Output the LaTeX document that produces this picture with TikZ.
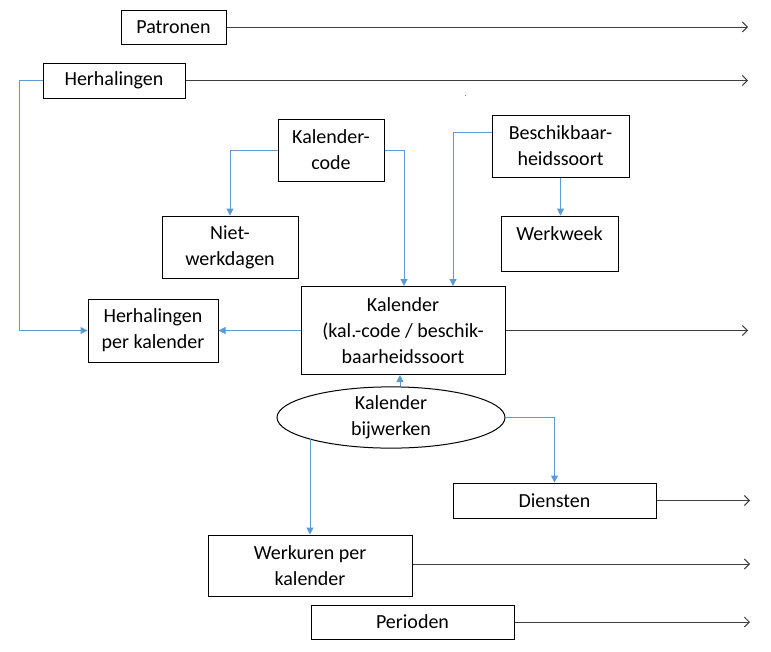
\documentclass[tikz,border=0pt]{standalone}
\usepackage{fontspec}
\setmainfont{Carlito}
\usetikzlibrary{arrows.meta,shapes.geometric}

\definecolor{linkBlue}{HTML}{5B9BD5}
\definecolor{flowGray}{HTML}{3F3F3F}

\begin{document}
\begin{tikzpicture}[
        % pixel grid, y downwards
        x=1pt, y=-1pt,
        box/.style={draw=black, line width=1pt, rectangle, align=center, inner sep=2pt,
            font=\fontsize{20}{26}\selectfont},
        oval/.style={draw=black, line width=1pt, ellipse, align=center, inner sep=0pt,
            font=\fontsize{20}{26}\selectfont},
        % pijlstijlen
        outFlow/.style={-{Straight Barb[length=5pt,width=10pt]}, line width=1pt, flowGray},
        blueLink/.style={-{Triangle[length=7pt,width=7pt]}, line width=1pt, linkBlue}
    ]

    % --- parameters ---
    \def\rightEnd{748}   % einde van de uitgaande pijlen
    \useasboundingbox (0,0) rectangle (771,651);

    % --- 1. bovenste rij ---
    \node[box, minimum width=105, minimum height=34] (pat) at (173.5,27) {Patronen};
    \node[box, minimum width=142, minimum height=35] (her) at (114,80.5) {Herhalingen};

    % --- 2. codes en soorten ---
    \node[box, minimum width=106, minimum height=62] (kcode) at (331,150) {Kalender-\\code};
    \node[box, minimum width=137, minimum height=62] (besch) at (560.5,146) {Beschikbaar-\\heidssoort};
    \node[box, minimum width=136, minimum height=62] (niet) at (230,247) {Niet-\\werkdagen};
    \node[box, minimum width=117, minimum height=55] (week) at (559.5,243.5) {Werkweek\\[-6pt]~};

    % --- 3. kalender ---
    \node[box, minimum width=130, minimum height=63] (hpk) at (153,330.5) {Herhalingen\\per kalender};
    \node[box, minimum width=204, minimum height=88] (kal) at (403,330.5)
        {Kalender\\(kal.-code / beschik-\\baarheidssoort};
    \node[oval, minimum width=228, minimum height=61] (bij) at (391,417.5) {Kalender\\bijwerken};

    % --- 4. onderste rij ---
    \node[box, minimum width=203, minimum height=35] (dien) at (554.5,500.5) {Diensten};
    \node[box, minimum width=204, minimum height=61] (wpk) at (310,565.5) {Werkuren per\\kalender};
    \node[box, minimum width=203, minimum height=34] (per) at (412.5,622) {Perioden};

    % --- 5. uitgaande pijlen (rechts) ---
    \coordinate (patEnd) at (\rightEnd,27);
    \coordinate (herEnd) at (\rightEnd,80.5);
    \coordinate (kalEnd) at (\rightEnd,330.5);
    \coordinate (dienEnd) at (750,500.5);
    \coordinate (wpkEnd) at (750,564);
    \coordinate (perEnd) at (750,622);
    \draw[outFlow] (pat.east) -- (patEnd);
    \draw[outFlow] (her.east) -- (herEnd);
    \draw[outFlow] (kal.east) -- (kalEnd);
    \draw[outFlow] (dien.east) -- (dienEnd);
    \draw[outFlow] (wpk.east |- wpkEnd) -- (wpkEnd);
    \draw[outFlow] (per.east) -- (perEnd);

    % --- 6. blauwe verbindingen ---
    \draw[blueLink] (her.west) -- ++(-23,0) |- (hpk.west);
    \draw[blueLink] (kcode.west) -| (niet.north);
    \draw[blueLink] (kcode.east) -| ([xshift=1pt]kal.north);
    \draw[blueLink] ([yshift=14pt]besch.west) -| ([xshift=50pt]kal.north);
    \draw[blueLink] (besch.south) -- (besch.south |- week.north);
    \draw[blueLink] (kal.west) -- (hpk.east);
    \draw[blueLink] ([xshift=-3pt]kal.south |- bij.north) -- ([xshift=-3pt]kal.south);
    \draw[blueLink] (bij.east) -| (dien.north);
    \draw[blueLink] (bij.195 -| wpk.north) -- (wpk.north);

    % losse stip
    \fill[gray] (464.5,94.5) rectangle ++(1.5,1.5);

\end{tikzpicture}
\end{document}
